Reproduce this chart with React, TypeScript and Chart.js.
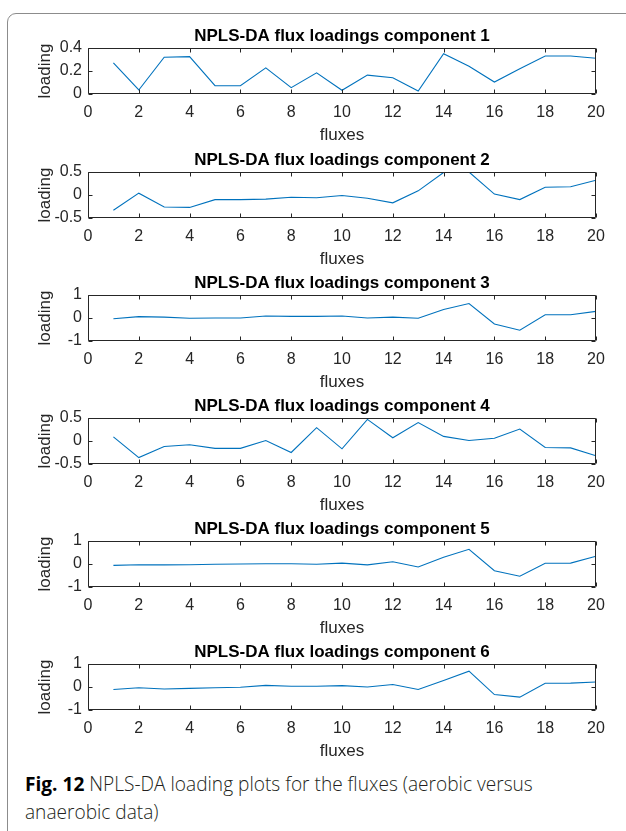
import React, { useEffect, useRef } from "react";
import { Chart, registerables } from "chart.js";

Chart.register(...registerables);

// ---------- data ----------
const fluxes = [1, 2, 3, 4, 5, 6, 7, 8, 9, 10, 11, 12, 13, 14, 15, 16, 17, 18, 19, 20];

const comp1 = [0.27, 0.035, 0.32, 0.325, 0.072, 0.072, 0.227, 0.055, 0.184, 0.032, 0.164, 0.141, 0.026, 0.351, 0.242, 0.104, 0.219, 0.331, 0.331, 0.311];
const comp2 = [-0.33, 0.04, -0.26, -0.27, -0.1, -0.1, -0.09, -0.05, -0.06, -0.01, -0.07, -0.17, 0.09, 0.49, 0.5, 0.02, -0.1, 0.17, 0.18, 0.32];
const comp3 = [-0.03, 0.06, 0.04, -0.01, 0.0, 0.0, 0.09, 0.07, 0.07, 0.09, 0.0, 0.04, -0.01, 0.37, 0.63, -0.26, -0.53, 0.14, 0.14, 0.29];
const comp4 = [0.09, -0.36, -0.12, -0.08, -0.16, -0.16, 0.01, -0.25, 0.29, -0.17, 0.47, 0.07, 0.4, 0.1, 0.01, 0.06, 0.26, -0.14, -0.15, -0.32];
const comp5 = [-0.06, -0.03, -0.04, -0.03, -0.01, 0.0, 0.01, 0.01, -0.01, 0.04, -0.04, 0.1, -0.13, 0.29, 0.64, -0.29, -0.53, 0.03, 0.04, 0.34];
const comp6 = [-0.11, -0.03, -0.09, -0.06, -0.03, -0.01, 0.07, 0.03, 0.03, 0.06, 0.0, 0.11, -0.11, 0.28, 0.69, -0.33, -0.44, 0.16, 0.17, 0.22];

const xTicks = [0, 2, 4, 6, 8, 10, 12, 14, 16, 18, 20];
const xTickLabels = ["0", "2", "4", "6", "8", "10", "12", "14", "16", "18", "20"];

const yTicksA = [0, 0.2, 0.4];
const yTickLabelsA = ["0", "0.2", "0.4"];
const yTicksB = [-0.5, 0, 0.5];
const yTickLabelsB = ["-0.5", "0", "0.5"];
const yTicksC = [-1, 0, 1];
const yTickLabelsC = ["-1", "0", "1"];

const titles = [
  "NPLS-DA flux loadings component 1",
  "NPLS-DA flux loadings component 2",
  "NPLS-DA flux loadings component 3",
  "NPLS-DA flux loadings component 4",
  "NPLS-DA flux loadings component 5",
  "NPLS-DA flux loadings component 6",
];
const xAxisTitle = "fluxes";
const yAxisTitle = "loading";

// ---------- layout / style ----------
const plots = [
  { values: comp1, ticks: yTicksA, labels: yTickLabelsA, top: 22 },
  { values: comp2, ticks: yTicksB, labels: yTickLabelsB, top: 146 },
  { values: comp3, ticks: yTicksC, labels: yTickLabelsC, top: 269 },
  { values: comp4, ticks: yTicksB, labels: yTickLabelsB, top: 392 },
  { values: comp5, ticks: yTicksC, labels: yTickLabelsC, top: 515 },
  { values: comp6, ticks: yTicksC, labels: yTickLabelsC, top: 638 },
];

const CANVAS_W = 626;
const CANVAS_H = 124;
const FONT = "'Liberation Sans', Arial, Helvetica, sans-serif";
const AXIS_COLOR = "#262626";
const LINE_COLOR = "#0072BD";

const boxPlugin = {
  id: "matlabBox",
  afterDatasetsDraw(chart: any) {
    const { ctx, chartArea: a, scales } = chart;
    const xs = scales.x;
    const ys = scales.y;
    const L = Math.round(a.left) + 0.5;
    const R = Math.round(a.right) - 0.5;
    const T = Math.round(a.top) + 0.5;
    const B = Math.round(a.bottom) - 0.5;
    const tl = 4;
    ctx.save();
    ctx.strokeStyle = AXIS_COLOR;
    ctx.lineWidth = 1;
    ctx.beginPath();
    ctx.rect(L, T, R - L, B - T);
    xs.ticks.forEach((t: any) => {
      const px = Math.round(xs.getPixelForValue(t.value)) + 0.5;
      ctx.moveTo(px, B);
      ctx.lineTo(px, B - tl);
      ctx.moveTo(px, T);
      ctx.lineTo(px, T + tl);
    });
    ys.ticks.forEach((t: any) => {
      const py = Math.round(ys.getPixelForValue(t.value)) + 0.5;
      ctx.moveTo(L, py);
      ctx.lineTo(L + tl, py);
      ctx.moveTo(R, py);
      ctx.lineTo(R - tl, py);
    });
    ctx.stroke();
    ctx.restore();
  },
};

function LoadingPlot({ idx }: { idx: number }) {
  const ref = useRef<HTMLCanvasElement | null>(null);
  useEffect(() => {
    const p = plots[idx];
    if (!ref.current) return;
    const chart = new Chart(ref.current, {
      type: "line",
      data: {
        datasets: [
          {
            data: fluxes.map((f, i) => ({ x: f, y: p.values[i] })),
            borderColor: LINE_COLOR,
            borderWidth: 1.1,
            pointRadius: 0,
            tension: 0,
            fill: false,
          },
        ],
      },
      options: {
        animation: false,
        responsive: false,
        maintainAspectRatio: false,
        devicePixelRatio: 1,
        layout: { padding: { left: 0, right: 30, top: 0, bottom: 0 } },
        events: [],
        plugins: {
          legend: { display: false },
          tooltip: { enabled: false },
          title: {
            display: true,
            text: titles[idx],
            fullSize: false,
            align: "center",
            color: "#000000",
            font: { family: FONT, size: 17, weight: "bold" },
            padding: { top: 4, bottom: 1.6 },
          },
        },
        scales: {
          x: {
            type: "linear",
            min: 0,
            max: 20,
            grid: { display: false, drawTicks: false },
            border: { display: false },
            afterBuildTicks: (s: any) => {
              s.ticks = xTicks.map((v) => ({ value: v }));
            },
            ticks: {
              autoSkip: false,
              maxRotation: 0,
              padding: 9,
              color: AXIS_COLOR,
              font: { family: FONT, size: 16 },
              callback: (v: any) => {
                const k = xTicks.indexOf(Number(v));
                return k >= 0 ? xTickLabels[k] : "";
              },
            },
            title: {
              display: true,
              text: xAxisTitle,
              color: AXIS_COLOR,
              font: { family: FONT, size: 17 },
              padding: { top: 0, bottom: 0 },
            },
            afterFit: (s: any) => {
              s.height = 52;
            },
          },
          y: {
            type: "linear",
            min: p.ticks[0],
            max: p.ticks[p.ticks.length - 1],
            grid: { display: false, drawTicks: false },
            border: { display: false },
            afterBuildTicks: (s: any) => {
              s.ticks = p.ticks.map((v) => ({ value: v }));
            },
            ticks: {
              autoSkip: false,
              padding: 6,
              color: AXIS_COLOR,
              font: { family: FONT, size: 16 },
              callback: (v: any) => {
                const k = p.ticks.findIndex((t) => Math.abs(t - Number(v)) < 1e-9);
                return k >= 0 ? p.labels[k] : "";
              },
            },
            title: {
              display: true,
              text: yAxisTitle,
              color: AXIS_COLOR,
              font: { family: FONT, size: 17 },
              padding: { top: 35, bottom: 0 },
            },
            afterFit: (s: any) => {
              s.width = 88;
            },
          },
        },
      } as any,
      plugins: [boxPlugin],
    });
    return () => chart.destroy();
  }, [idx]);

  return (
    <canvas
      ref={ref}
      width={CANVAS_W}
      height={CANVAS_H}
      style={{
        position: "absolute",
        left: 0,
        top: plots[idx].top,
        width: CANVAS_W,
        height: CANVAS_H,
      }}
    />
  );
}

export default function App() {
  return (
    <div
      style={{
        position: "absolute",
        left: 0,
        top: 0,
        width: 626,
        height: 831,
        overflow: "hidden",
        background: "#ffffff",
      }}
    >
      <div
        style={{
          position: "absolute",
          left: 7,
          top: 13,
          width: 660,
          height: 860,
          border: "1.5px solid #8c8c8c",
          borderRadius: 9,
          boxSizing: "border-box",
        }}
      />
      {plots.map((_, i) => (
        <LoadingPlot key={i} idx={i} />
      ))}
      <div
        style={{
          position: "absolute",
          left: 25,
          top: 770,
          fontFamily: "'Open Sans', sans-serif",
          fontSize: 20,
          fontWeight: 300,
          lineHeight: "28px",
          color: "#231f20",
          whiteSpace: "nowrap",
          transform: "scaleX(0.955)",
          transformOrigin: "left top",
        }}
      >
        <span style={{ fontWeight: "bold", color: "#000" }}>Fig. 12</span> NPLS-DA loading plots for the fluxes (aerobic versus
        <br />
        anaerobic data)
      </div>
    </div>
  );
}
